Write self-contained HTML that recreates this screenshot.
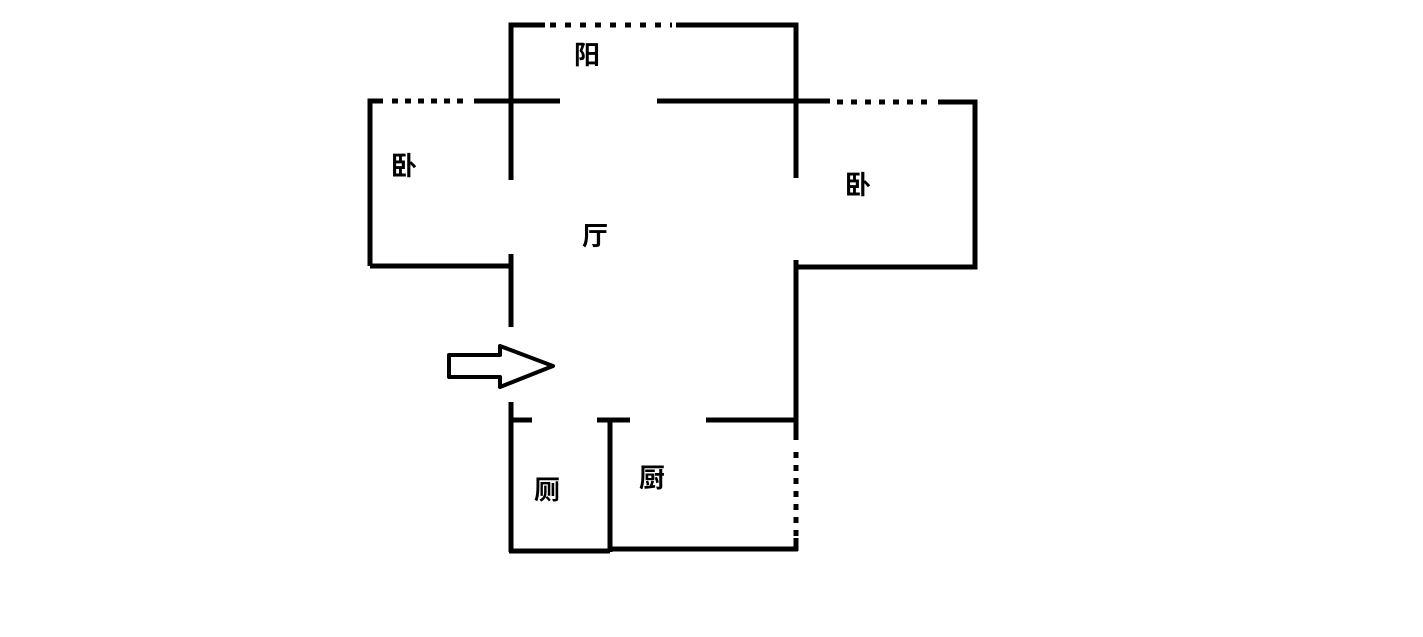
<!DOCTYPE html>
<html><head><meta charset="utf-8"><style>
html,body{margin:0;padding:0;background:#fff;}
svg{display:block;}
text{font-family:"Liberation Sans","Noto Sans CJK SC",sans-serif;font-weight:bold;font-size:26px;fill:#000;}
</style></head><body>
<svg width="1423" height="637" viewBox="0 0 1423 637" xmlns="http://www.w3.org/2000/svg">
<g stroke="#000" stroke-width="5" fill="none" stroke-linecap="butt">
<polyline points="545,25 511,25 511,180"/>
<line x1="550" y1="25" x2="672" y2="25" stroke-dasharray="6,9"/>
<polyline points="676,25 796,25 796,178"/>
<polyline points="370,266 370,101 383,101"/>
<line x1="392" y1="101" x2="470" y2="101" stroke-dasharray="6,7"/>
<line x1="474" y1="101" x2="560" y2="101"/>
<line x1="657" y1="101" x2="830" y2="101"/>
<line x1="837" y1="102" x2="935" y2="102" stroke-dasharray="6,8"/>
<polyline points="938,102 975,102 975,267 796,267"/>
<line x1="370" y1="266" x2="511" y2="266"/>
<line x1="511" y1="254" x2="511" y2="327"/>
<line x1="796" y1="260" x2="796" y2="420"/>
<line x1="511" y1="402" x2="511" y2="552"/>
<line x1="511" y1="420" x2="532" y2="420"/>
<line x1="597" y1="420" x2="630" y2="420"/>
<line x1="706" y1="420" x2="798" y2="420"/>
<line x1="610" y1="420" x2="610" y2="552"/>
<line x1="509" y1="551" x2="610" y2="551"/>
<line x1="610" y1="549" x2="798" y2="549"/>
<line x1="796" y1="420" x2="796" y2="440"/>
<line x1="796" y1="452" x2="796" y2="536" stroke-dasharray="6,7"/>
<line x1="796" y1="538" x2="796" y2="551"/>
<polygon points="449,355 500,355 500,346 553,366 500,387 500,377 449,377" stroke-width="4" stroke-linejoin="round"/>
</g>
<text x="574" y="64">阳</text>
<text x="391" y="175">卧</text>
<text x="582" y="245">厅</text>
<text x="845" y="194">卧</text>
<text x="534" y="499">厕</text>
<text x="639" y="487">厨</text>
</svg>
</body></html>
